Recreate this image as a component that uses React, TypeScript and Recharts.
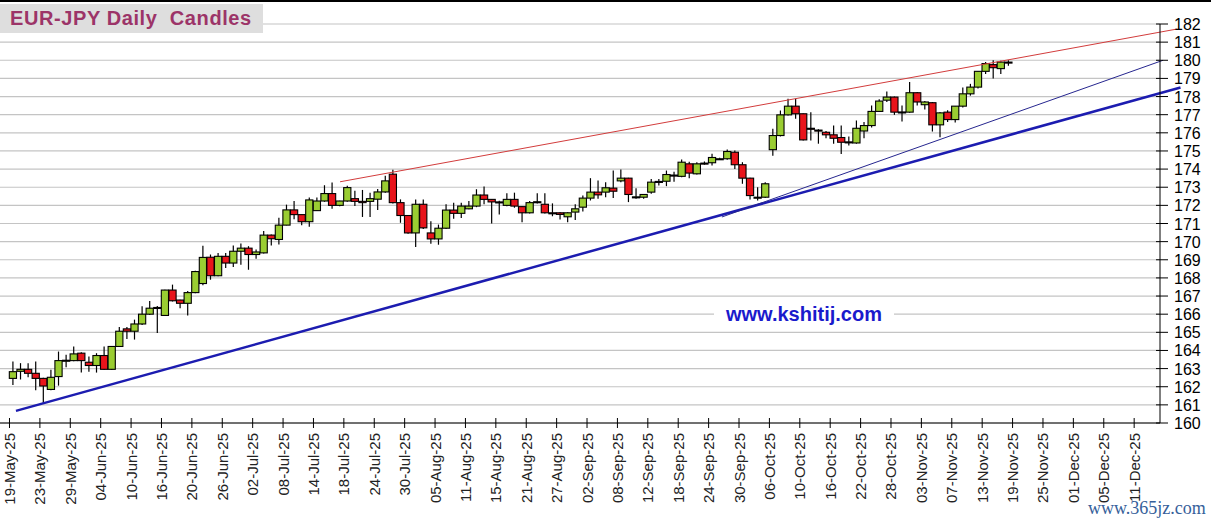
import React from 'react';
import { ComposedChart, Bar, XAxis, YAxis, CartesianGrid, ReferenceLine } from 'recharts';

// daily candles, 19-May-25 .. 18-Nov-25 (one entry per weekday)
const opens = [
  162.46, 162.85, 162.96, 162.74, 162.46, 161.85, 162.56, 163.44, 163.44, 163.85,
  163.35, 163.17, 163.72, 162.96, 164.22, 165.19, 165.06, 165.46, 166.0, 166.35,
  165.93, 167.33, 166.78, 166.6, 167.19, 167.69, 169.14, 168.12, 169.19, 168.82,
  169.47, 169.64, 169.29, 169.38, 170.36, 170.12, 170.91, 171.75, 171.49, 171.1,
  171.71, 172.24, 172.65, 172.0, 172.24, 172.37, 172.22, 172.22, 172.34, 172.74,
  173.72, 172.15, 171.44, 170.48, 172.06, 170.48, 170.15, 170.74, 171.74, 171.56,
  171.81, 171.96, 172.57, 172.33, 172.19, 172.0, 172.33, 171.93, 171.59, 172.17,
  172.06, 171.59, 171.59, 171.37, 171.63, 171.9, 172.4, 172.73, 172.73, 172.95,
  173.35, 173.5, 172.45, 172.45, 172.73, 173.3, 173.33, 173.67, 173.6, 174.29,
  173.74, 174.33, 174.35, 174.55, 174.57, 174.93, 174.24, 173.5, 172.44, 172.45,
  175.07, 175.85, 176.99, 177.47, 177.05, 176.25, 176.15, 176.03, 175.89, 175.74,
  175.5, 175.44, 176.1, 176.4, 177.18, 177.8, 177.97, 177.15, 177.14, 178.21,
  177.55, 177.66, 176.44, 177.14, 176.73, 177.47, 178.15, 178.52, 179.39, 179.76,
  179.54, 179.9,
];
const highs = [
  163.39, 163.3, 163.3, 163.39, 162.5, 162.93, 163.94, 163.76, 164.22, 163.9,
  163.67, 163.85, 164.22, 164.25, 165.3, 165.3, 165.7, 166.44, 166.72, 166.45,
  167.35, 167.63, 166.8, 167.28, 168.39, 169.78, 169.29, 169.38, 169.38, 169.79,
  169.9, 169.75, 169.56, 170.58, 170.4, 171.32, 172.04, 172.24, 171.5, 172.43,
  172.43, 173.11, 173.26, 172.25, 173.08, 172.8, 172.85, 172.7, 172.9, 173.63,
  173.96, 172.33, 171.45, 172.33, 172.33, 171.13, 170.94, 172.06, 172.15, 172.15,
  172.24, 172.89, 173.04, 172.34, 172.25, 172.67, 172.7, 171.95, 172.24, 172.67,
  172.67, 172.11, 171.62, 171.62, 172.06, 172.55, 173.5, 173.37, 173.28, 173.92,
  173.98, 173.52, 172.95, 172.62, 173.46, 173.46, 173.92, 173.85, 174.53, 174.4,
  174.38, 174.42, 174.84, 174.62, 175.08, 175.03, 174.38, 173.52, 173.0, 173.28,
  176.22, 177.23, 177.88, 177.88, 177.07, 177.14, 176.2, 176.1, 176.4, 176.4,
  175.8, 176.68, 176.6, 177.5, 177.85, 178.28, 178.0, 177.5, 178.8, 178.25,
  177.76, 177.7, 177.15, 177.25, 177.47, 178.5, 178.7, 179.4, 179.9, 180.0,
  179.98, 180.0,
];
const lows = [
  162.09, 162.4, 162.52, 161.8, 161.07, 161.8, 162.06, 163.07, 163.4, 162.78,
  162.83, 162.78, 162.93, 162.93, 164.2, 164.63, 164.6, 165.4, 165.95, 164.96,
  165.9, 166.7, 166.33, 165.93, 167.15, 167.6, 167.9, 168.09, 168.55, 168.6,
  168.73, 168.45, 169.05, 169.34, 169.79, 169.84, 170.9, 171.23, 170.9, 170.82,
  171.7, 172.2, 171.82, 171.95, 172.2, 171.97, 171.36, 171.36, 171.75, 172.7,
  172.1, 171.04, 170.44, 169.7, 170.7, 169.89, 169.83, 170.7, 171.26, 171.3,
  171.78, 171.9, 172.06, 171.0, 171.5, 171.95, 171.87, 171.07, 171.55, 172.1,
  171.55, 171.4, 171.22, 171.07, 171.19, 171.66, 172.27, 172.36, 172.45, 172.4,
  173.28, 172.18, 172.36, 172.36, 172.64, 173.1, 173.06, 173.3, 173.55, 173.5,
  173.7, 174.24, 174.2, 174.5, 174.52, 174.0, 173.19, 172.32, 172.27, 172.4,
  174.74, 175.8, 176.95, 176.77, 175.57, 175.57, 175.4, 175.7, 175.4, 174.83,
  175.3, 175.4, 175.7, 176.3, 177.15, 177.7, 176.99, 176.62, 177.1, 177.5,
  177.29, 176.07, 175.76, 176.6, 176.57, 177.4, 178.05, 178.45, 179.25, 178.99,
  179.25, 179.7,
];
const closes = [
  162.83, 162.96, 162.74, 162.46, 162.04, 162.52, 163.44, 163.46, 163.81, 163.44,
  163.17, 163.72, 162.96, 164.22, 165.06, 165.06, 165.46, 166.0, 166.33, 166.37,
  167.33, 166.74, 166.6, 167.19, 168.35, 169.13, 168.12, 169.19, 168.82, 169.47,
  169.64, 169.29, 169.43, 170.36, 170.16, 170.91, 171.75, 171.49, 171.1, 172.3,
  172.24, 172.65, 172.0, 172.24, 172.98, 172.22, 172.15, 172.37, 172.74, 173.35,
  172.15, 171.44, 170.48, 172.06, 170.76, 170.15, 170.74, 171.74, 171.56, 171.96,
  171.96, 172.57, 172.33, 172.19, 172.17, 172.33, 171.96, 171.59, 172.15, 172.2,
  171.59, 171.54, 171.5, 171.59, 171.81, 172.4, 172.73, 172.58, 172.97, 172.78,
  173.5, 172.6, 172.47, 172.6, 173.28, 173.32, 173.7, 173.63, 174.38, 173.78,
  174.29, 174.31, 174.64, 174.57, 174.97, 174.24, 173.5, 172.54, 172.45, 173.19,
  175.85, 176.99, 177.47, 177.05, 175.61, 176.2, 176.1, 175.89, 175.7, 175.48,
  175.48, 176.25, 176.4, 177.18, 177.75, 177.97, 177.14, 177.12, 178.21, 177.7,
  177.7, 176.44, 177.1, 176.73, 177.47, 178.15, 178.52, 179.39, 179.82, 179.59,
  179.9, 179.88,
];

// x-axis labels, one every 4 trading days
const dateTicks = [
  '19-May-25', '23-May-25', '29-May-25', '04-Jun-25', '10-Jun-25', '16-Jun-25', '20-Jun-25',
  '26-Jun-25', '02-Jul-25', '08-Jul-25', '14-Jul-25', '18-Jul-25', '24-Jul-25', '30-Jul-25',
  '05-Aug-25', '11-Aug-25', '15-Aug-25', '21-Aug-25', '27-Aug-25', '02-Sep-25', '08-Sep-25',
  '12-Sep-25', '18-Sep-25', '24-Sep-25', '30-Sep-25', '06-Oct-25', '10-Oct-25', '16-Oct-25',
  '22-Oct-25', '28-Oct-25', '03-Nov-25', '07-Nov-25', '13-Nov-25', '19-Nov-25', '25-Nov-25',
  '01-Dec-25', '05-Dec-25', '11-Dec-25',
];
const priceTicks = [
  160, 161, 162, 163, 164, 165, 166, 167, 168, 169, 170,
  171, 172, 173, 174, 175, 176, 177, 178, 179, 180, 181, 182,
];

// trend lines: [day index, price]
const upperResistance = [[43, 173.3], [153.1, 181.72]];
const innerSupport = [[93.25, 171.36], [151.3, 180.0]];
const mainSupport = [[0.35, 160.67], [153.6, 178.5]];

const candles = opens.map((open, i) => ({
  i,
  open,
  high: highs[i],
  low: lows[i],
  close: closes[i],
}));

const tickPositions = dateTicks.map((_, k) => k * 4 - 0.5);

const GREEN = '#9ACD32';
const RED = '#E8141B';

const Candle = (props: any) => {
  const { x, y, width, height, payload } = props;
  const { open, close, high, low } = payload;
  const h = Math.abs(height);
  const top = height < 0 ? y + height : y;
  const ppu = h / (high - low);
  const bodyTop = top + (high - Math.max(open, close)) * ppu;
  const bodyBottom = top + (high - Math.min(open, close)) * ppu;
  const cx = x + width / 2;
  const up = close >= open;
  return (
    <g>
      <line x1={cx} x2={cx} y1={top} y2={top + h} stroke="#000" strokeWidth={1.2} />
      <rect
        x={cx - 3.6}
        y={bodyTop}
        width={7.2}
        height={Math.max(bodyBottom - bodyTop, 1)}
        fill={up ? GREEN : RED}
        stroke="#000"
        strokeWidth={1.1}
      />
    </g>
  );
};

const PriceTick = ({ x, y, payload }: any) => (
  <g>
    <line x1={x - 18} x2={x - 6} y1={y} y2={y} stroke="#000" />
    <text x={x} y={y} dy={6} fontSize={16} fontFamily="Arial, 'Liberation Sans'" fill="#000">
      {payload.value}
    </text>
  </g>
);

const DateTick = ({ x, y, index }: any) => (
  <g>
    <line x1={x} x2={x} y1={y - 15} y2={y - 5} stroke="#000" />
    <text
      transform={`translate(${x + 5.5},${y}) rotate(-90)`}
      textAnchor="end"
      fontSize={15}
      fontFamily="Arial, 'Liberation Sans'"
      fill="#222"
    >
      {dateTicks[index]}
    </text>
  </g>
);

const trend = (pts: number[][]) =>
  pts.map(([x, y]) => ({ x, y }));

export default function App() {
  return (
    <div style={{ position: 'absolute', left: 0, top: 0, width: 1211, height: 524, background: '#fff' }}>
      <ComposedChart
        width={1211}
        height={524}
        data={candles}
        margin={{ top: 24, right: 0, bottom: 0, left: 0 }}
      >
        <CartesianGrid vertical={false} stroke="#c4c4c4" strokeWidth={1.2} />
        <XAxis
          dataKey="i"
          type="number"
          domain={[-1.75, 150.9]}
          ticks={tickPositions}
          interval={0}
          height={101}
          tickSize={0}
          tickMargin={10}
          axisLine={{ stroke: '#000' }}
          tick={<DateTick />}
        />
        <YAxis
          orientation="right"
          domain={[160, 182]}
          ticks={priceTicks}
          interval={0}
          width={51}
          tickSize={0}
          tickMargin={14}
          axisLine={{ stroke: '#000' }}
          tick={<PriceTick />}
        />
        <Bar
          dataKey={(d: any) => [d.low, d.high]}
          barSize={8}
          shape={<Candle />}
          isAnimationActive={false}
        />
        <ReferenceLine segment={trend(mainSupport)} stroke="#1c1cb0" strokeWidth={2.5} ifOverflow="visible" />
        <ReferenceLine segment={trend(innerSupport)} stroke="#26268f" strokeWidth={1} ifOverflow="visible" />
        <ReferenceLine segment={trend(upperResistance)} stroke="#d23c3c" strokeWidth={1} ifOverflow="visible" />
      </ComposedChart>

      <div style={{ position: 'absolute', left: 0, top: 0, width: 1211, height: 2, background: '#000' }} />
      <div
        style={{
          position: 'absolute',
          left: 0,
          top: 4,
          width: 263,
          height: 29,
          background: '#dedede',
          color: '#9C3468',
          fontFamily: "Arial, 'Liberation Sans'",
          fontWeight: 'bold',
          fontSize: 20,
          lineHeight: '29px',
          paddingLeft: 10,
          boxSizing: 'border-box',
          letterSpacing: 0.6,
          whiteSpace: 'pre',
        }}
      >
        {'EUR-JPY Daily  Candles'}
      </div>
      <div
        style={{
          position: 'absolute',
          left: 714,
          top: 301,
          padding: '0 12px',
          background: '#fff',
          color: '#1a1acc',
          fontFamily: "Arial, 'Liberation Sans'",
          fontWeight: 'bold',
          fontSize: 20,
          lineHeight: '26px',
        }}
      >
        www.kshitij.com
      </div>
      <div
        style={{
          position: 'absolute',
          left: 1088,
          top: 498,
          color: '#35609a',
          fontFamily: "'Liberation Serif', 'DejaVu Serif', serif",
          fontSize: 18,
          lineHeight: '20px',
        }}
      >
        www.365jz.com
      </div>
    </div>
  );
}
